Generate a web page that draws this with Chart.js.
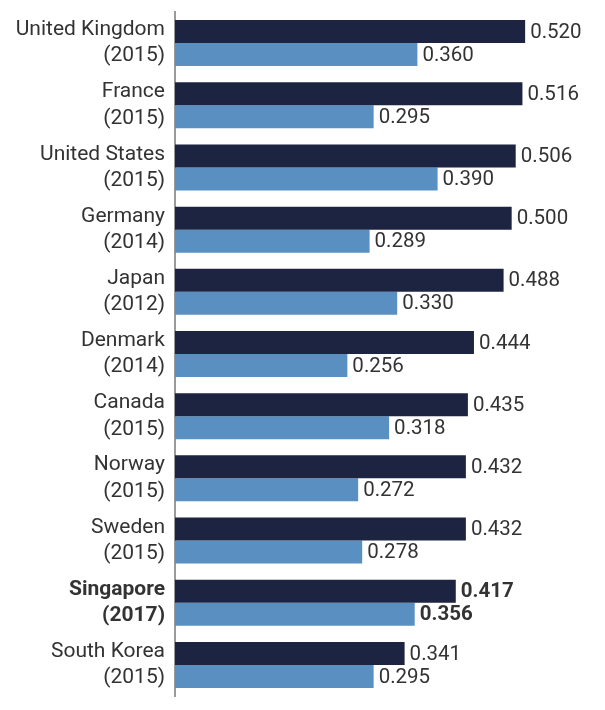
<!DOCTYPE html>
<html>
<head>
<meta charset="utf-8">
<script src="https://cdn.jsdelivr.net/npm/chart.js@4/dist/chart.umd.min.js"></script>
<style>
  html, body { margin: 0; padding: 0; background: #fff; }
  #wrap { width: 605px; height: 710px; position: relative; }
</style>
</head>
<body>
<div id="wrap"><canvas id="chart"></canvas></div>
<script>
// ================= DATA =================
const countries = [
    ['United Kingdom', '(2015)'],
    ['France', '(2015)'],
    ['United States', '(2015)'],
    ['Germany', '(2014)'],
    ['Japan', '(2012)'],
    ['Denmark', '(2014)'],
    ['Canada', '(2015)'],
    ['Norway', '(2015)'],
    ['Sweden', '(2015)'],
    ['Singapore', '(2017)'],
    ['South Korea', '(2015)']
];
const beforeTax = [0.520, 0.516, 0.506, 0.500, 0.488, 0.444, 0.435, 0.432, 0.432, 0.417, 0.341];
const afterTax  = [0.360, 0.295, 0.390, 0.289, 0.330, 0.256, 0.318, 0.272, 0.278, 0.356, 0.295];
const highlightIndex = 9; // Singapore shown in bold

const darkNavy = '#1c2441';
const steelBlue = '#5a8fc1';
const textColor = '#333333';
const fontFamily = 'Roboto, "Noto Sans", sans-serif';

// draw the value at the end of every bar
const valueLabels = {
    id: 'valueLabels',
    afterDatasetsDraw(chart) {
        const ctx = chart.ctx;
        ctx.save();
        ctx.textBaseline = 'middle';
        ctx.textAlign = 'left';
        chart.data.datasets.forEach((ds, i) => {
            const meta = chart.getDatasetMeta(i);
            meta.data.forEach((bar, j) => {
                const bold = j === highlightIndex;
                ctx.font = (bold ? 'bold ' : '') + '20.5px ' + fontFamily;
                ctx.fillStyle = textColor;
                ctx.fillText(ds.data[j].toFixed(3), bar.x + 5, bar.y + 1);
            });
        });
        ctx.restore();
    }
};

new Chart(document.getElementById('chart'), {
    type: 'bar',
    data: {
        labels: countries,
        datasets: [
            { label: 'Before', data: beforeTax, backgroundColor: darkNavy },
            { label: 'After', data: afterTax, backgroundColor: steelBlue }
        ]
    },
    options: {
        indexAxis: 'y',
        responsive: true,
        maintainAspectRatio: false,
        animation: false,
        layout: { padding: { top: 12, bottom: 14, right: 26, left: 0 } },
        datasets: {
            bar: { categoryPercentage: 0.74, barPercentage: 1.0 }
        },
        plugins: {
            legend: { display: false },
            tooltip: { enabled: false }
        },
        scales: {
            x: {
                display: false,
                min: 0,
                max: 0.6
            },
            y: {
                afterFit(scale) {
                    // fixed axis position, no extra room for the two-line labels
                    scale.width = 175;
                    scale.paddingTop = 0;
                    scale.paddingBottom = 0;
                },
                grid: { display: false, drawTicks: false },
                border: { display: true, color: '#9a9a9a', width: 2 },
                ticks: {
                    color: textColor,
                    padding: 10,
                    font: c => ({
                        family: fontFamily,
                        size: 21,
                        lineHeight: 1.25,
                        weight: c.index === highlightIndex ? 'bold' : 'normal'
                    })
                }
            }
        }
    },
    plugins: [valueLabels]
});
</script>
</body>
</html>
